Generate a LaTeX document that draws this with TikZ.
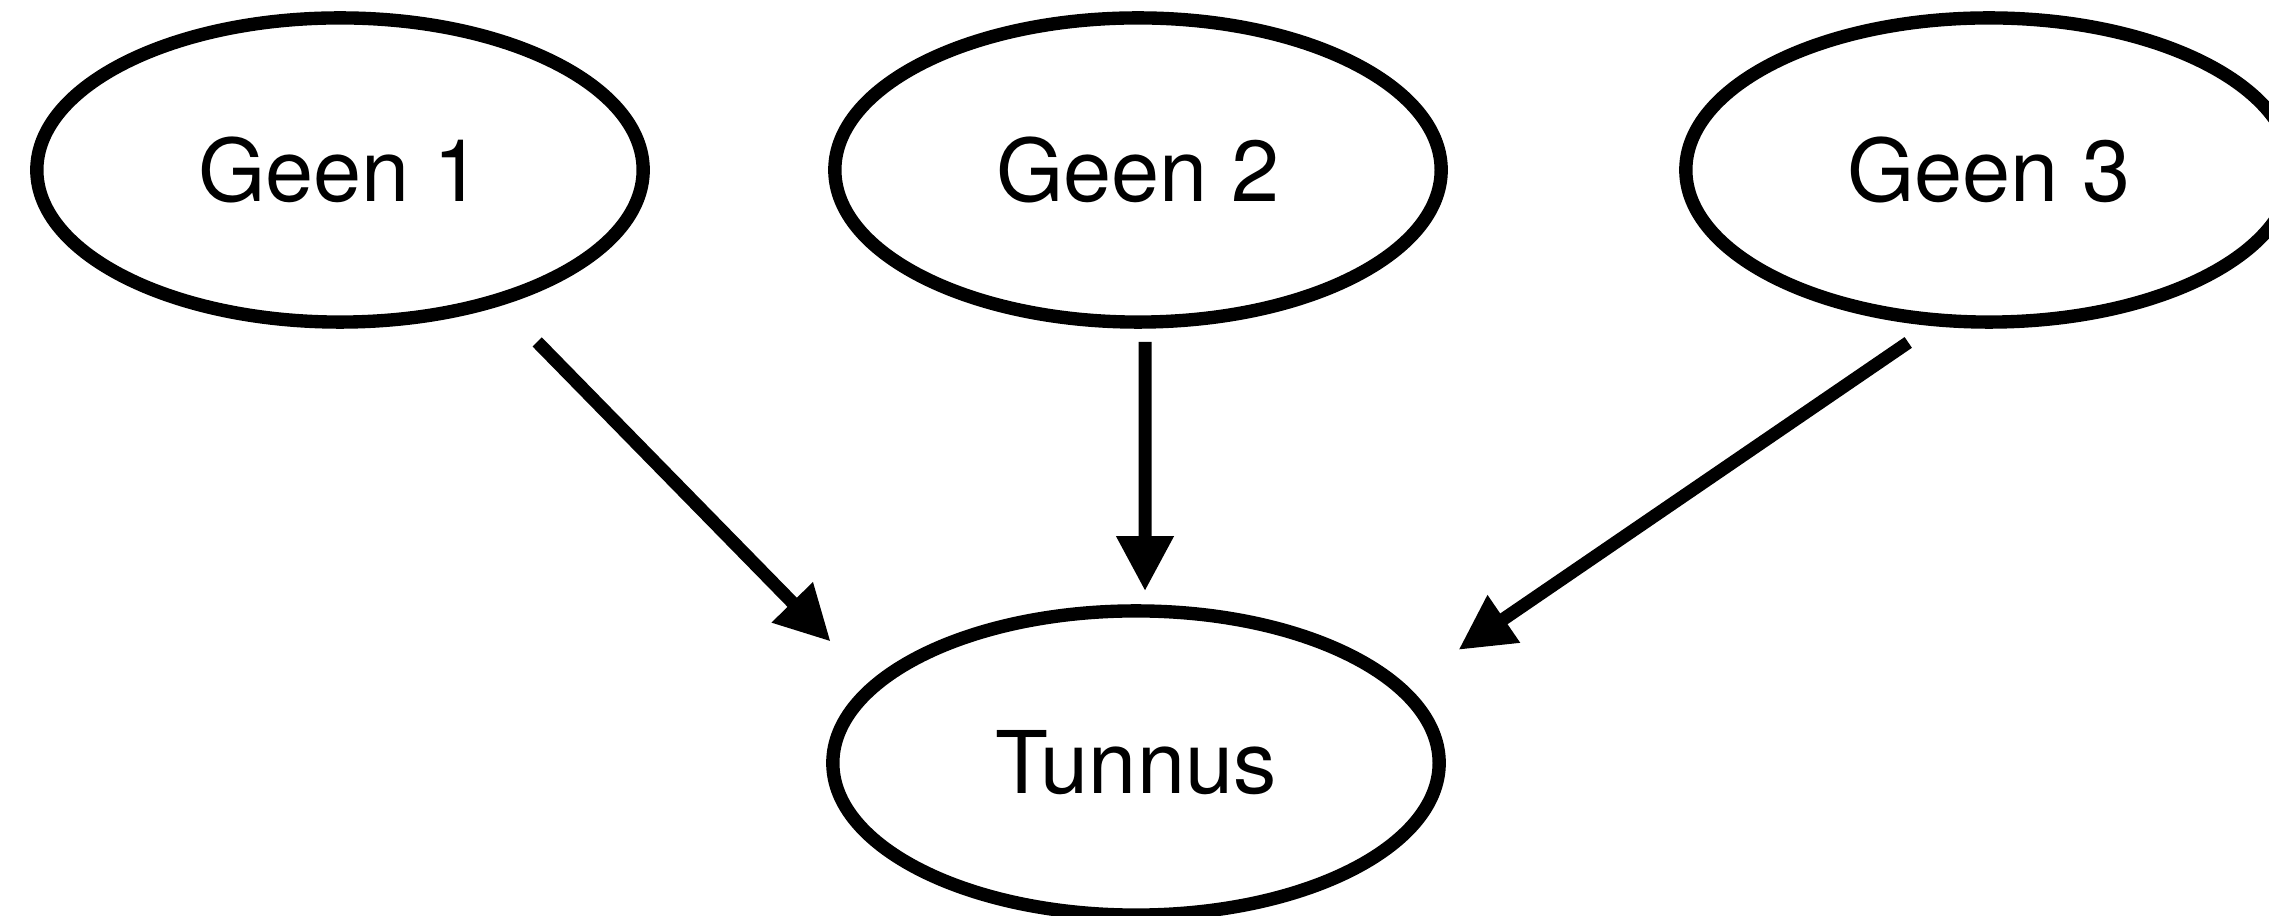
\documentclass[tikz,border=0pt]{standalone}
\usepackage{fontspec}
\setmainfont{TeX Gyre Heros}
\usetikzlibrary{arrows.meta,shapes.geometric}
\tikzset{>/.tip={Triangle[length=5.5mm,width=5.4mm]},
  gene/.style={draw, ellipse, line width=3.8pt, minimum width=60.6mm, minimum height=30.4mm,
    inner sep=0pt, font=\fontsize{24.6}{29}\selectfont},
  link/.style={->, line width=3.7pt}}

\begin{document}
\begin{tikzpicture}[x=0.01cm,y=-0.01cm]
\useasboundingbox (0,0) rectangle (2269,916);
\node[gene] (g1) at (340,170)  {Geen 1};
\node[gene] (g2) at (1138,170) {Geen 2};
\node[gene] (g3) at (1989,170) {Geen 3};
\node[gene] (tun) at (1136,763) {Tunnus};


\draw[link, shorten <=5.1mm, shorten >=5.6mm] (g1.-40) to (tun.163);
\draw[link, shorten <=1.3mm, shorten >=1.3mm] ([xshift=0.7mm]g2.south) to ([xshift=0.9mm]tun.north);
\draw[link, shorten <=2.9mm, shorten >=6.3mm] (g3.250) to (tun.16);
\end{tikzpicture}
\end{document}
